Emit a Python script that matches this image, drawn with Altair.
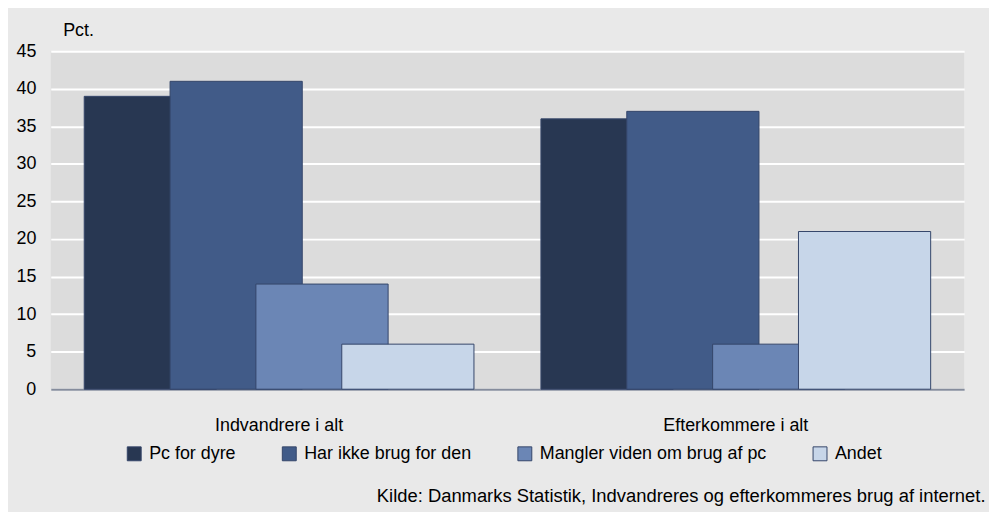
import altair as alt
import pandas as pd

groups = ["Indvandrere i alt", "Efterkommere i alt"]
series = ["Pc for dyre", "Har ikke brug for den", "Mangler viden om brug af pc", "Andet"]
values = {
    "Indvandrere i alt": [39, 41, 14, 6],
    "Efterkommere i alt": [36, 37, 6, 21],
}
colors = ["#283752", "#415b88", "#6b86b5", "#c7d6e9"]
y_ticks = [0, 5, 10, 15, 20, 25, 30, 35, 40, 45]
source_text = "Kilde: Danmarks Statistik, Indvandreres og efterkommeres brug af internet."
unit_text = "Pct."

rows = []
for g in groups:
    for s, v in zip(series, values[g]):
        rows.append({"gruppe": g, "serie": s, "pct": v})
df = pd.DataFrame(rows)

FONT = "Liberation Sans"

chart = (
    alt.Chart(df)
    .mark_bar(width=133, stroke="#34466a", strokeWidth=1)
    .encode(
        x=alt.X(
            "gruppe:N",
            sort=groups,
            scale=alt.Scale(paddingInner=0, paddingOuter=0),
            axis=alt.Axis(
                title=source_text,
                titleX=940,
                titleY=113,
                titleAlign="right",
                titleAnchor="end",
                titleBaseline="alphabetic",
                titleFont=FONT,
                titleFontSize=18.5,
                titleFontWeight="normal",
                titleColor="#000000",
                titleLimit=0,
                labelAngle=0,
                labelFont=FONT,
                labelFontSize=18,
                labelColor="#000000",
                labelBaseline="alphabetic",
                labelPadding=42,
                ticks=False,
                tickSize=0,
                grid=False,
                domainColor="#858c9c",
                domainWidth=2,
            ),
        ),
        xOffset=alt.XOffset(
            "serie:N",
            sort=series,
            scale=alt.Scale(paddingInner=0, paddingOuter=0.66),
        ),
        y=alt.Y(
            "pct:Q",
            scale=alt.Scale(domain=[0, 45], nice=False),
            axis=alt.Axis(
                values=y_ticks,
                title=unit_text,
                titleAngle=0,
                titleX=12,
                titleY=-16,
                titleAlign="left",
                titleBaseline="alphabetic",
                titleFont=FONT,
                titleFontSize=18,
                titleFontWeight="normal",
                titleColor="#000000",
                labelFont=FONT,
                labelFontSize=18,
                labelColor="#000000",
                labelPadding=15,
                ticks=False,
                tickSize=0,
                domain=False,
                grid=True,
                gridColor="#ffffff",
                gridWidth=2,
                gridOpacity=1,
            ),
        ),
        color=alt.Color(
            "serie:N",
            sort=series,
            scale=alt.Scale(domain=series, range=colors),
            legend=alt.Legend(
                title=None,
                orient="none",
                legendX=75,
                legendY=396,
                direction="horizontal",
                symbolType="square",
                symbolSize=196,
                symbolStrokeColor="#34466a",
                symbolStrokeWidth=1,
                symbolOpacity=1,
                labelFont=FONT,
                labelFontSize=18,
                labelColor="#000000",
                labelOffset=6,
                labelLimit=0,
                columnPadding=44,
                padding=0,
            ),
        ),
    )
    .properties(
        width=919,
        height=340,
        autosize=alt.AutoSizeParams(type="none"),
        padding={"left": 43, "top": 42, "right": 25, "bottom": 122},
        background="#e9e9e9",
    )
    .configure_view(fill="#dcdcdc", stroke=None)
)

chart.save("out.html", embed_options={"renderer": "svg", "actions": False})
